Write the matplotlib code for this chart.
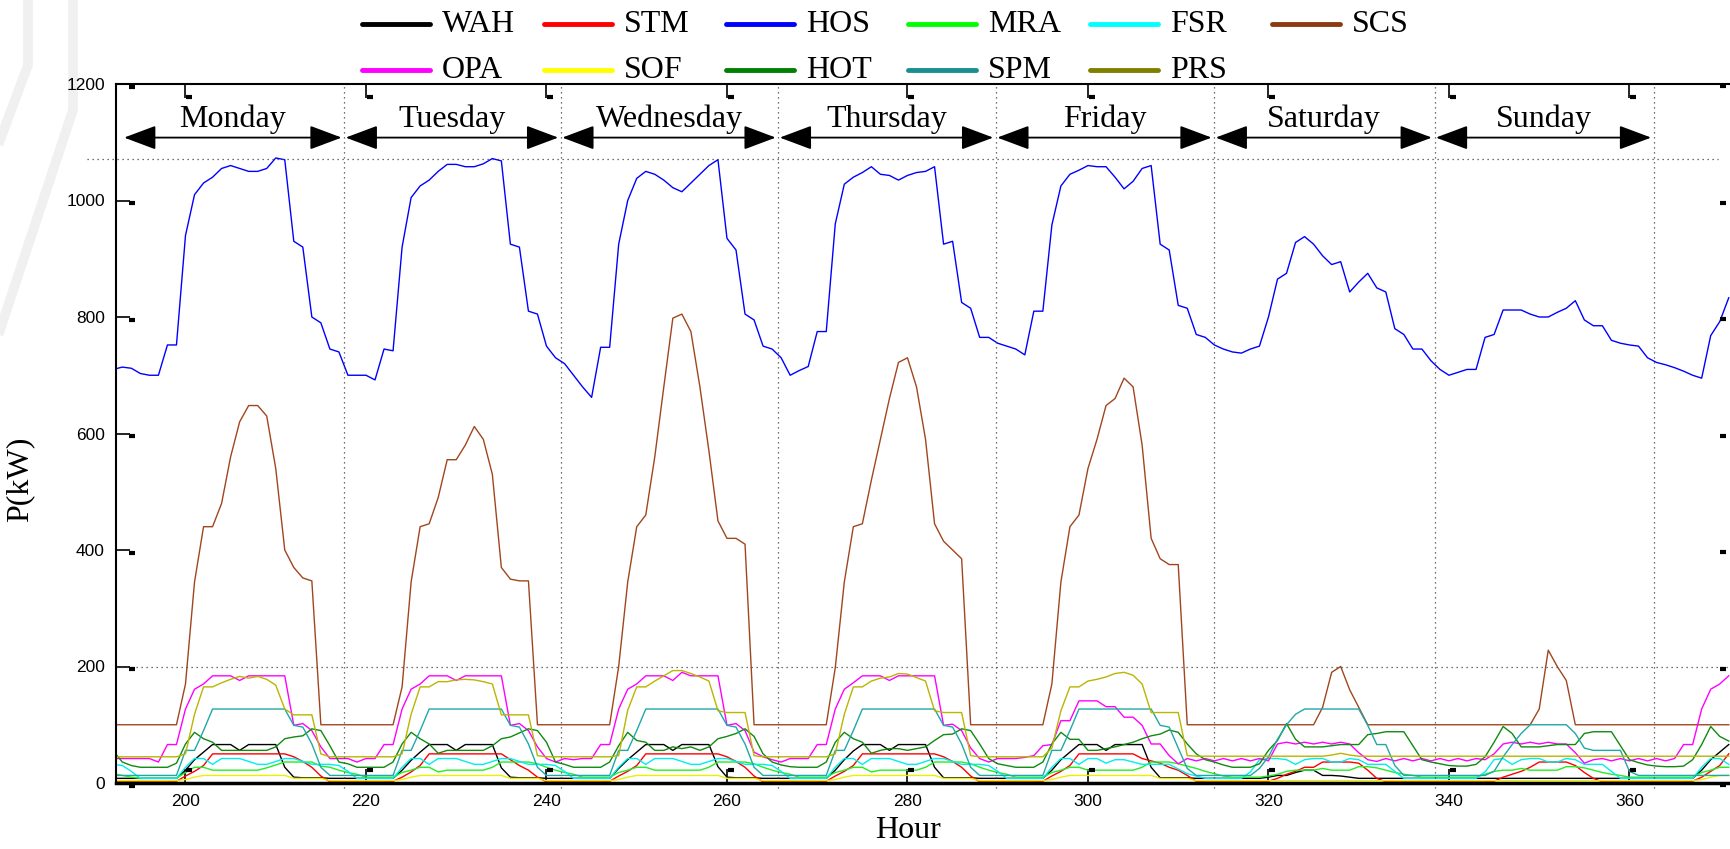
## Hourly load profiles of the campus buildings, one week (hours 192-371)
import numpy as np
import matplotlib
matplotlib.use("Agg")
from matplotlib import pyplot as plt
from matplotlib.lines import Line2D

# x axis: one sample per hour
hours = np.arange(192, 372)

# ---- data, one list per day: Mon, Tue, Wed, Thu, Fri, Sat, Sun, then 12 h of next Monday
wah_days = [
    [8, 8, 8, 8, 8, 8, 8, 8, 22, 40, 53, 66, 66, 66, 56, 66, 66, 66, 66, 27, 10, 9, 9, 9],
    [8, 8, 8, 8, 8, 8, 8, 8, 22, 39, 53, 66, 66, 66, 56, 66, 66, 66, 66, 26, 10, 9, 9, 9],
    [8, 8, 8, 8, 8, 8, 8, 8, 25, 40, 53, 66, 66, 66, 56, 66, 66, 66, 66, 28, 10, 9, 9, 9],
    [8, 8, 8, 8, 8, 8, 8, 8, 22, 40, 55, 66, 66, 66, 56, 66, 66, 66, 66, 27, 9, 9, 9, 9],
    [8, 8, 8, 8, 8, 8, 8, 8, 22, 40, 53, 66, 66, 66, 56, 66, 66, 66, 66, 27, 9, 9, 9, 9],
    [8, 8, 8, 8, 8, 8, 8, 8, 10, 13, 13, 18, 22, 22, 13, 13, 12, 10, 8, 8, 8, 8, 8, 8],
    [8, 8, 8, 8, 8, 8, 8, 8, 8, 8, 8, 8, 8, 8, 8, 8, 8, 8, 8, 8, 8, 8, 8, 8],
    [8, 8, 8, 8, 8, 8, 8, 8, 22, 40, 53, 66],
]
stm_days = [
    [2, 2, 2, 2, 2, 2, 2, 3, 12, 20, 30, 50, 50, 50, 50, 50, 50, 50, 50, 50, 45, 37, 27, 12],
    [2, 2, 2, 2, 2, 2, 2, 3, 10, 19, 30, 50, 50, 50, 50, 50, 50, 50, 50, 50, 40, 30, 22, 10],
    [2, 2, 2, 2, 2, 2, 2, 3, 12, 20, 30, 50, 50, 50, 50, 50, 50, 50, 50, 50, 45, 37, 27, 12],
    [2, 2, 2, 2, 2, 2, 2, 3, 12, 20, 30, 50, 50, 50, 50, 50, 50, 50, 50, 50, 45, 37, 27, 12],
    [2, 2, 2, 2, 2, 2, 2, 3, 12, 20, 30, 50, 50, 50, 50, 50, 50, 50, 42, 38, 34, 27, 22, 13],
    [3, 2, 2, 2, 2, 2, 2, 2, 3, 8, 15, 20, 27, 27, 36, 36, 36, 36, 34, 22, 8, 2, 2, 2],
    [2, 2, 2, 2, 2, 2, 2, 2, 2, 3, 10, 15, 20, 27, 36, 36, 36, 36, 30, 18, 8, 2, 2, 2],
    [2, 2, 2, 2, 2, 2, 2, 3, 10, 20, 30, 50],
]
hos_days = [
    [710, 714, 712, 703, 700, 700, 752, 752, 940, 1010, 1030, 1040, 1055, 1060, 1055, 1050, 1050, 1055, 1073, 1070, 930, 920, 800, 790],
    [745, 740, 700, 700, 700, 692, 745, 742, 920, 1005, 1025, 1035, 1050, 1062, 1062, 1058, 1058, 1063, 1072, 1068, 925, 920, 810, 805],
    [750, 730, 720, 700, 680, 662, 748, 748, 925, 1000, 1038, 1050, 1045, 1035, 1022, 1015, 1030, 1045, 1060, 1070, 935, 915, 805, 795],
    [750, 745, 730, 700, 708, 715, 775, 775, 960, 1028, 1040, 1048, 1058, 1045, 1043, 1035, 1043, 1048, 1050, 1058, 925, 930, 825, 815],
    [765, 765, 755, 750, 745, 735, 810, 810, 958, 1025, 1045, 1052, 1060, 1058, 1058, 1040, 1020, 1033, 1055, 1060, 925, 915, 820, 815],
    [770, 765, 752, 745, 740, 738, 745, 750, 800, 865, 875, 928, 938, 925, 905, 890, 895, 843, 860, 875, 850, 843, 780, 770],
    [745, 745, 725, 710, 700, 705, 710, 710, 765, 770, 812, 812, 812, 805, 800, 800, 808, 815, 828, 795, 785, 785, 760, 755],
    [752, 750, 730, 722, 718, 713, 707, 700, 695, 768, 792, 833],
]
mra_days = [
    [16, 13, 10, 8, 8, 8, 8, 8, 18, 27, 27, 22, 22, 22, 22, 22, 22, 26, 31, 36, 36, 36, 36, 29],
    [27, 22, 18, 15, 10, 10, 10, 10, 18, 22, 27, 27, 19, 22, 22, 22, 22, 22, 27, 36, 36, 36, 36, 33],
    [27, 22, 18, 15, 10, 10, 10, 10, 18, 22, 27, 27, 22, 22, 22, 22, 22, 22, 27, 36, 36, 36, 36, 33],
    [27, 22, 18, 15, 10, 10, 10, 10, 18, 22, 27, 27, 19, 22, 22, 22, 22, 22, 27, 36, 36, 36, 36, 33],
    [27, 22, 18, 15, 10, 10, 10, 10, 18, 22, 27, 27, 22, 22, 22, 22, 22, 22, 27, 36, 36, 36, 33, 29],
    [25, 20, 16, 12, 10, 10, 10, 10, 12, 15, 20, 22, 22, 22, 25, 22, 22, 22, 28, 28, 26, 22, 18, 15],
    [13, 10, 10, 10, 10, 10, 10, 10, 15, 20, 22, 22, 25, 22, 22, 22, 22, 28, 28, 26, 22, 18, 15, 13],
    [10, 10, 10, 10, 10, 10, 10, 10, 18, 22, 27, 27],
]
fsr_days = [
    [32, 30, 20, 8, 8, 8, 8, 8, 27, 42, 42, 32, 42, 42, 42, 37, 32, 32, 37, 42, 42, 37, 32, 32],
    [32, 30, 20, 8, 8, 8, 8, 8, 27, 42, 42, 32, 42, 42, 42, 37, 32, 32, 37, 42, 42, 37, 32, 32],
    [32, 30, 20, 8, 8, 8, 8, 8, 27, 42, 42, 32, 42, 42, 42, 37, 32, 32, 37, 42, 42, 37, 32, 32],
    [32, 30, 20, 8, 8, 8, 8, 8, 27, 42, 42, 32, 42, 42, 42, 37, 32, 32, 37, 42, 42, 37, 32, 32],
    [32, 30, 20, 8, 8, 8, 8, 8, 27, 42, 42, 32, 42, 42, 34, 40, 40, 36, 32, 32, 32, 32, 24, 16],
    [12, 8, 8, 8, 8, 8, 19, 40, 42, 42, 40, 32, 40, 42, 42, 36, 36, 42, 40, 32, 32, 32, 20, 8],
    [8, 8, 8, 8, 8, 8, 8, 8, 19, 40, 42, 32, 40, 42, 42, 36, 36, 42, 40, 32, 32, 32, 20, 8],
    [8, 8, 8, 8, 8, 8, 8, 8, 27, 42, 42, 32],
]
scs_days = [
    [100, 100, 100, 100, 100, 100, 100, 100, 170, 345, 440, 440, 480, 560, 620, 648, 648, 630, 540, 400, 370, 352, 347, 100],
    [100, 100, 100, 100, 100, 100, 100, 100, 165, 345, 440, 445, 490, 555, 555, 580, 612, 590, 530, 370, 350, 347, 347, 100],
    [100, 100, 100, 100, 100, 100, 100, 100, 200, 345, 440, 460, 560, 680, 798, 805, 775, 680, 570, 450, 420, 420, 410, 100],
    [100, 100, 100, 100, 100, 100, 100, 100, 198, 345, 440, 445, 520, 590, 660, 722, 730, 680, 590, 445, 415, 400, 385, 100],
    [100, 100, 100, 100, 100, 100, 100, 100, 170, 345, 440, 460, 540, 590, 648, 660, 695, 680, 580, 420, 385, 375, 375, 100],
    [100, 100, 100, 100, 100, 100, 100, 100, 100, 100, 100, 100, 100, 100, 130, 190, 200, 160, 130, 100, 100, 100, 100, 100],
    [100, 100, 100, 100, 100, 100, 100, 100, 100, 100, 100, 100, 100, 100, 127, 228, 200, 176, 100, 100, 100, 100, 100, 100],
    [100, 100, 100, 100, 100, 100, 100, 100, 100, 100, 100, 100],
]
opa_days = [
    [42, 42, 42, 42, 42, 36, 66, 66, 127, 161, 170, 184, 184, 184, 176, 184, 184, 184, 184, 184, 99, 102, 90, 62],
    [42, 42, 42, 36, 42, 42, 66, 66, 127, 161, 170, 184, 184, 184, 176, 184, 184, 184, 184, 184, 99, 102, 90, 62],
    [42, 36, 42, 40, 42, 42, 66, 66, 127, 161, 170, 184, 184, 184, 176, 190, 184, 184, 184, 184, 99, 102, 90, 53],
    [45, 40, 36, 42, 42, 42, 66, 66, 127, 161, 172, 184, 184, 184, 176, 184, 184, 184, 184, 184, 99, 101, 90, 60],
    [42, 36, 42, 42, 42, 44, 47, 64, 66, 107, 107, 141, 141, 141, 131, 131, 113, 113, 99, 67, 67, 47, 33, 42],
    [38, 42, 38, 42, 38, 42, 38, 42, 38, 67, 70, 67, 70, 67, 70, 67, 70, 67, 52, 40, 37, 42, 38, 42],
    [38, 42, 38, 42, 38, 42, 38, 42, 40, 50, 67, 70, 67, 70, 67, 70, 67, 67, 52, 34, 40, 42, 38, 42],
    [38, 42, 38, 42, 38, 42, 66, 66, 127, 161, 170, 184],
]
sof_days = [
    [4, 4, 4, 4, 4, 4, 4, 4, 6, 10, 13, 13, 13, 13, 13, 13, 13, 13, 13, 13, 8, 8, 8, 8],
    [4, 4, 4, 4, 4, 4, 4, 4, 6, 10, 13, 13, 13, 13, 13, 13, 13, 13, 13, 13, 8, 8, 8, 8],
    [4, 4, 4, 4, 4, 4, 4, 4, 6, 10, 13, 13, 13, 13, 13, 13, 13, 13, 13, 13, 8, 8, 8, 8],
    [4, 4, 4, 4, 4, 4, 4, 4, 6, 10, 13, 13, 13, 13, 13, 13, 13, 13, 13, 13, 8, 8, 8, 8],
    [4, 4, 4, 4, 4, 4, 4, 4, 6, 10, 13, 13, 13, 13, 13, 13, 13, 13, 13, 13, 8, 8, 8, 8],
    [4, 4, 4, 4, 4, 4, 4, 4, 4, 4, 4, 4, 4, 4, 4, 4, 4, 4, 4, 4, 4, 4, 4, 4],
    [4, 4, 4, 4, 4, 4, 4, 4, 4, 4, 4, 4, 4, 4, 4, 4, 4, 4, 4, 4, 4, 4, 4, 4],
    [4, 4, 4, 4, 4, 4, 4, 4, 6, 10, 13, 13],
]
hot_days = [
    [55, 36, 30, 27, 27, 27, 27, 34, 67, 87, 76, 70, 56, 56, 56, 56, 56, 56, 62, 76, 79, 81, 93, 90],
    [64, 36, 33, 27, 27, 27, 27, 36, 67, 87, 76, 67, 51, 56, 56, 56, 56, 56, 64, 76, 79, 86, 93, 90],
    [70, 36, 32, 27, 27, 27, 27, 36, 64, 87, 73, 70, 56, 56, 62, 59, 62, 56, 62, 76, 80, 85, 93, 80],
    [50, 36, 31, 28, 27, 27, 27, 36, 70, 87, 76, 70, 51, 56, 59, 59, 56, 59, 62, 73, 83, 84, 93, 90],
    [67, 42, 33, 30, 27, 27, 27, 36, 67, 87, 75, 75, 56, 56, 59, 62, 66, 70, 76, 81, 84, 91, 87, 67],
    [50, 40, 36, 31, 27, 27, 27, 33, 56, 73, 102, 75, 62, 62, 62, 64, 66, 66, 66, 83, 85, 88, 88, 88],
    [64, 40, 36, 33, 30, 29, 29, 32, 45, 70, 97, 85, 62, 62, 62, 64, 66, 66, 66, 85, 88, 88, 88, 64],
    [40, 35, 31, 29, 28, 28, 29, 40, 66, 97, 80, 72],
]
spm_days = [
    [13, 13, 13, 13, 13, 13, 13, 13, 56, 56, 90, 127, 127, 127, 127, 127, 127, 127, 127, 127, 99, 96, 67, 27],
    [13, 13, 13, 13, 13, 13, 13, 13, 56, 56, 90, 127, 127, 127, 127, 127, 127, 127, 127, 127, 99, 96, 67, 27],
    [13, 13, 13, 13, 13, 13, 13, 13, 56, 56, 90, 127, 127, 127, 127, 127, 127, 127, 127, 127, 99, 96, 67, 27],
    [13, 13, 13, 13, 13, 13, 13, 13, 56, 56, 90, 127, 127, 127, 127, 127, 127, 127, 127, 127, 99, 96, 67, 27],
    [13, 13, 13, 13, 13, 13, 13, 13, 56, 56, 90, 127, 127, 127, 127, 127, 127, 127, 127, 127, 99, 96, 60, 25],
    [13, 13, 13, 13, 13, 13, 13, 25, 45, 75, 100, 118, 127, 127, 127, 127, 127, 127, 127, 99, 66, 66, 30, 13],
    [13, 13, 13, 13, 13, 13, 13, 13, 13, 20, 45, 66, 85, 100, 100, 100, 100, 100, 85, 60, 56, 56, 56, 56],
    [20, 13, 13, 13, 13, 13, 13, 13, 13, 13, 13, 13],
]
prs_days = [
    [45, 45, 45, 45, 45, 45, 45, 45, 50, 118, 165, 165, 172, 178, 183, 180, 183, 178, 168, 127, 117, 117, 117, 50],
    [45, 45, 45, 45, 45, 45, 45, 45, 50, 118, 165, 165, 174, 174, 177, 178, 177, 174, 170, 117, 117, 117, 117, 47],
    [45, 45, 45, 45, 45, 45, 45, 45, 47, 125, 165, 165, 175, 184, 193, 193, 188, 182, 175, 124, 121, 121, 121, 47],
    [45, 45, 45, 45, 45, 45, 45, 45, 50, 118, 165, 165, 175, 180, 182, 188, 187, 181, 175, 124, 121, 121, 121, 47],
    [45, 45, 45, 45, 45, 45, 45, 45, 60, 124, 165, 165, 175, 178, 182, 188, 190, 185, 170, 121, 121, 121, 121, 47],
    [46, 46, 46, 46, 46, 46, 46, 46, 46, 46, 46, 46, 46, 46, 46, 48, 51, 48, 46, 46, 46, 46, 46, 46],
    [46, 46, 46, 46, 46, 46, 46, 46, 46, 46, 46, 46, 46, 46, 46, 46, 46, 46, 46, 46, 46, 46, 46, 46],
    [46, 46, 46, 46, 46, 46, 46, 46, 46, 46, 46, 46],
]

names = ["WAH", "STM", "HOS", "MRA", "FSR", "SCS", "OPA", "SOF", "HOT", "SPM", "PRS"]
series = [wah_days, stm_days, hos_days, mra_days, fsr_days, scs_days,
          opa_days, sof_days, hot_days, spm_days, prs_days]
line_colors = ["#000000", "#ff0000", "#0000ff", "#22ee22", "#00eeee", "#a0461e",
               "#ff00ff", "#eeee00", "#108a10", "#20a8a8", "#bbb400"]
key_colors = ["#000000", "#ff0000", "#0000ff", "#00ff00", "#00ffff", "#8b3a12",
              "#ff00ff", "#ffff00", "#008000", "#1a8f8f", "#808000"]

day_names = ["Monday", "Tuesday", "Wednesday", "Thursday", "Friday", "Saturday", "Sunday"]
day_breaks = [217.6, 241.6, 265.7, 289.8, 314.0, 338.4, 362.7]
yticks = [0, 200, 400, 600, 800, 1000, 1200]
xticks = [200, 220, 240, 260, 280, 300, 320, 340, 360]

serif = "Liberation Serif"
sans = "Liberation Sans"

W, H = 1731, 849
fig = plt.figure(figsize=(W / 100, H / 100), dpi=100)

# faint watermark strokes at the left edge
for xs, ys in [([73, 73, 0], [0, 110, 330]), ([28, 28, 0], [0, 65, 140])]:
    fig.add_artist(Line2D([x / W for x in xs], [1 - y / H for y in ys],
                          transform=fig.transFigure, color="#f0f0f0", lw=7, zorder=0))

ax = fig.add_axes([116 / W, 1 - 783 / H, 1 - 116 / W, (783 - 84) / H])
ax.set_xlim(192.3, 371.25)
ax.set_ylim(0, 1200)

for days, c in zip(series, line_colors):
    vals = np.concatenate([np.array(d, dtype=float) for d in days])
    ax.plot(hours, vals, color=c, lw=1.0)

# dotted guides
dots = (0, (1, 3))
for s in day_breaks:
    ax.plot([s, s], [-8, 1200], color="#444444", ls=dots, lw=0.9, clip_on=False)
ax.plot([192.3, 371.25], [200, 200], color="#444444", ls=dots, lw=0.9)
ax.plot([189.1, 369.8], [1072, 1072], color="#444444", ls=dots, lw=0.9, clip_on=False)

# day arrows and names
starts = [193.2] + [s + 0.15 for s in day_breaks[:-1]]
ends = [s - 0.3 for s in day_breaks]
for name, x0, x1 in zip(day_names, starts, ends):
    ax.annotate("", xy=(x1, 1108), xytext=(x0, 1108),
                arrowprops=dict(arrowstyle="<|-|>,head_length=0.8,head_width=0.3",
                                mutation_scale=25, color="k", lw=1.3,
                                shrinkA=0, shrinkB=0))
    ax.text((x0 + x1) / 2, 1139, name, ha="center", va="center",
            fontsize=23, family=serif)

# axes frame and ticks
ax.spines["right"].set_visible(False)
ax.spines["left"].set_linewidth(1.5)
ax.spines["top"].set_linewidth(1.5)
ax.spines["bottom"].set_linewidth(2.5)
ax.set_xticks(xticks)
ax.set_yticks(yticks)
ax.tick_params(direction="in", length=10, width=1.2, top=True, right=False,
               labelsize=12.5, pad=8)
for lab in ax.get_xticklabels() + ax.get_yticklabels():
    lab.set_family(sans)

# small flags at the tick tips
flag = dict(ls="none", marker="_", ms=5, mew=3, color="k", clip_on=False)
ax.plot(np.array(xticks) + 0.4, [22] * len(xticks), **flag)
ax.plot(np.array(xticks) + 0.4, [1178] * len(xticks), **flag)
ax.plot([194.1] * len(yticks), np.array(yticks) - 5, **flag)
ax.plot([370.4] * len(yticks), np.array(yticks) - 4, **flag)

# legend, two rows of fixed-width columns
row1 = [0, 1, 2, 3, 4, 5]
row2 = [6, 7, 8, 9, 10]
for r, idx in enumerate([row1, row2]):
    y = 1 - (24 + 46 * r) / H
    for k, i in enumerate(idx):
        x0 = (362 + 182 * k) / W
        fig.add_artist(Line2D([x0, x0 + 68 / W], [y, y], transform=fig.transFigure,
                              color=key_colors[i], lw=3.5, solid_capstyle="round"))
        fig.text(x0 + 80 / W, y, names[i], va="center", ha="left",
                 fontsize=23, family=serif)

fig.text(20 / W, 1 - 479 / H, "P(kW)", rotation=90, ha="center", va="center",
         fontsize=23, family=serif)
fig.text(908 / W, 1 - 830 / H, "Hour", ha="center", va="center",
         fontsize=23, family=serif)

fig.savefig("out.png", dpi=100)
